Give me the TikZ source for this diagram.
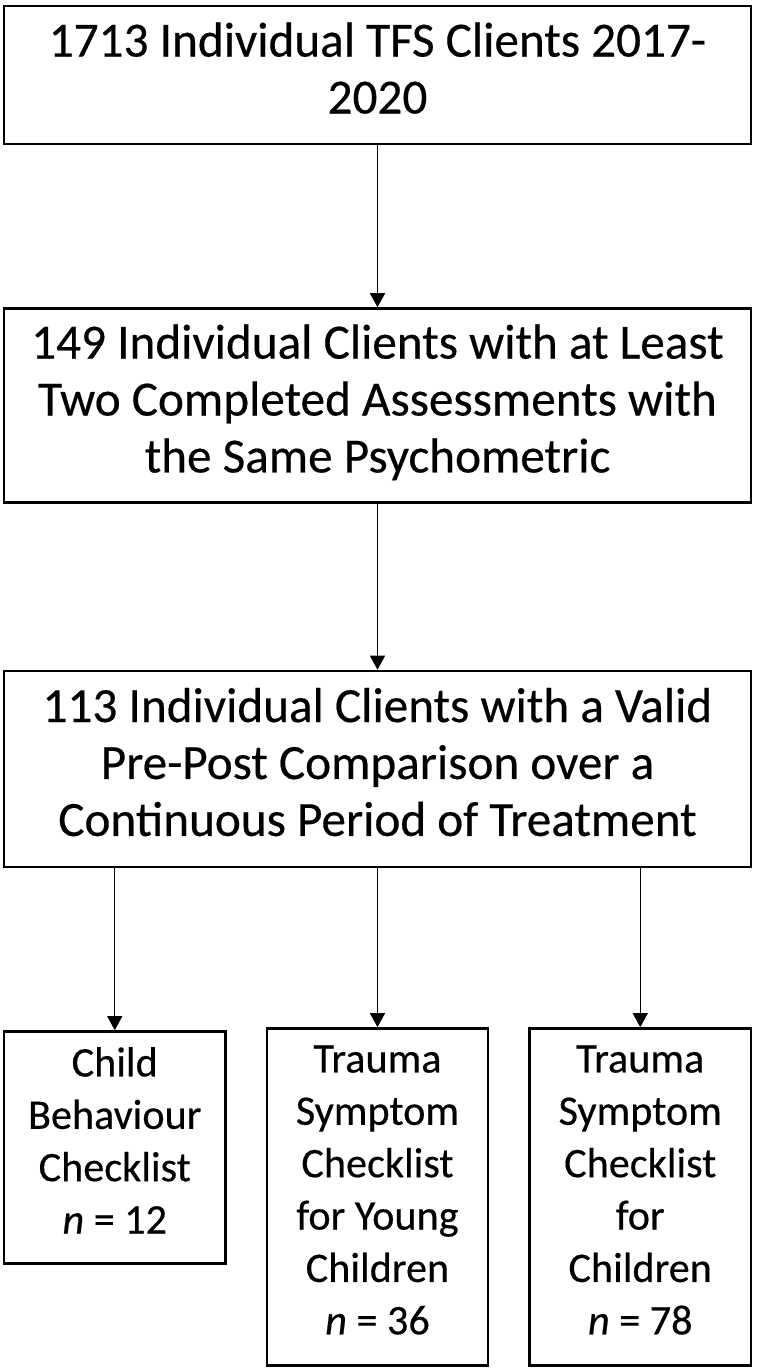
\documentclass[tikz,border=0pt]{standalone}
\usepackage{fontspec}
\setmainfont[FakeBold=0.4]{Carlito}
\usetikzlibrary{arrows.meta,positioning}
\tikzset{
  caixa/.style={rectangle, draw=black, line width=1.4pt, fill=white,
                align=center, inner sep=0pt, text depth=8pt},
  largo/.style={caixa, minimum width=14.94cm, font=\fontsize{28}{32.4}\selectfont},
  estreito/.style={caixa, minimum width=4.43cm, font=\fontsize{24}{29.8}\selectfont},
  seta/.style={-{Triangle[length=2.8mm,width=3mm]}, line width=0.8pt, black},
}
\begin{document}
\begin{tikzpicture}
  \useasboundingbox (0,0) rectangle (15.24,-27.42);
  \node[largo, minimum height=2.76cm] (t) at (7.55,-1.5)
       {1713 Individual TFS Clients 2017-\\2020};
  \node[largo, minimum height=3.88cm, below=3.24cm of t] (p)
       {149 Individual Clients with at Least\\Two Completed Assessments with\\the Same Psychometric};
  \node[largo, minimum height=3.92cm, below=3.32cm of p] (v)
       {113 Individual Clients with a Valid\\Pre-Post Comparison over a\\Continuous Period of Treatment};
  \node[estreito, minimum height=4.64cm, below=3.24cm of v.south west, anchor=north west] (cbc)
       {Child\\Behaviour\\Checklist\\\textit{n} = 12};
  \node[estreito, minimum height=6.74cm, below=3.18cm of v] (tscyc)
       {Trauma\\Symptom\\Checklist\\for Young\\Children\\\textit{n} = 36};
  \node[estreito, minimum height=6.74cm, below=3.18cm of v.south east, anchor=north east] (tscc)
       {Trauma\\Symptom\\Checklist\\for\\Children\\\textit{n} = 78};
  \draw[seta] (t) -- (p);
  \draw[seta] (p) -- (v);
  \draw[seta] (cbc |- v.south) -- (cbc);
  \draw[seta] (v) -- (tscyc);
  \draw[seta] (tscc |- v.south) -- (tscc);
\end{tikzpicture}
\end{document}
